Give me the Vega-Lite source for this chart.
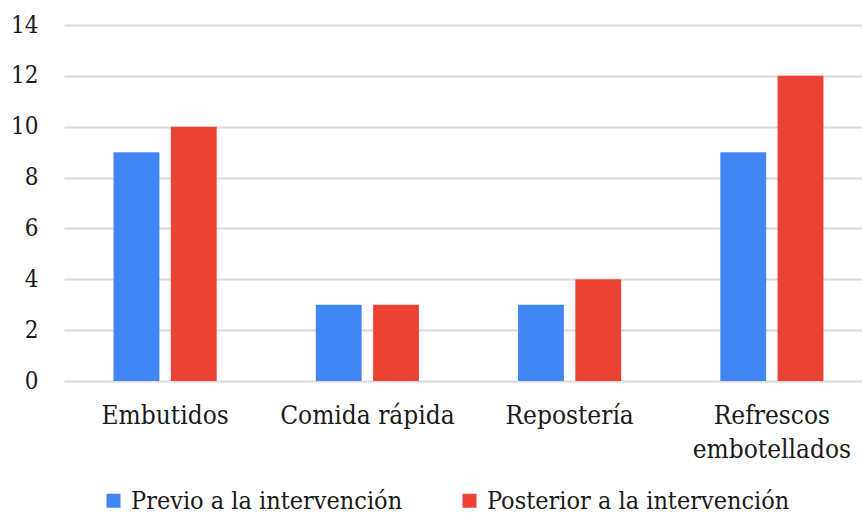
{
  "$schema": "https://vega.github.io/schema/vega-lite/v6.json",
  "width": 809,
  "height": 356,
  "autosize": {"type": "none"},
  "padding": {"left": 64, "top": 25, "right": 0, "bottom": 133},
  "background": "white",
  "config": {
    "view": {"stroke": null},
    "font": "DejaVu Serif Condensed",
    "axis": {"labelFont": "DejaVu Serif Condensed", "labelColor": "#1a1a1a"},
    "legend": {"labelFont": "DejaVu Serif Condensed", "labelColor": "#1a1a1a"}
  },
  "data": {
    "values": [
      {"categoria": "Embutidos", "momento": "Previo a la intervención", "valor": 9},
      {"categoria": "Embutidos", "momento": "Posterior a la intervención", "valor": 10},
      {"categoria": "Comida rápida", "momento": "Previo a la intervención", "valor": 3},
      {"categoria": "Comida rápida", "momento": "Posterior a la intervención", "valor": 3},
      {"categoria": "Repostería", "momento": "Previo a la intervención", "valor": 3},
      {"categoria": "Repostería", "momento": "Posterior a la intervención", "valor": 4},
      {"categoria": "Refrescos embotellados", "momento": "Previo a la intervención", "valor": 9},
      {"categoria": "Refrescos embotellados", "momento": "Posterior a la intervención", "valor": 12}
    ]
  },
  "mark": {"type": "bar"},
  "encoding": {
    "x": {
      "field": "categoria",
      "type": "nominal",
      "sort": null,
      "title": null,
      "scale": {"paddingInner": 0.49, "paddingOuter": 0.245},
      "axis": {
        "domain": false,
        "ticks": false,
        "labelAngle": 0,
        "labelFontSize": 26,
        "labelPadding": 21,
        "labelLineHeight": 34,
        "labelLimit": 300,
        "labelExpr": "datum.label == 'Refrescos embotellados' ? ['Refrescos', 'embotellados'] : datum.label"
      }
    },
    "xOffset": {
      "field": "momento",
      "type": "nominal",
      "sort": ["Previo a la intervención", "Posterior a la intervención"],
      "scale": {"paddingInner": 0.2, "paddingOuter": 0}
    },
    "y": {
      "field": "valor",
      "type": "quantitative",
      "title": null,
      "scale": {"domain": [0, 14], "nice": false},
      "axis": {
        "values": [0, 2, 4, 6, 8, 10, 12, 14],
        "domain": false,
        "ticks": false,
        "labelFontSize": 24,
        "labelPadding": 26,
        "gridColor": "#d9d9d9",
        "gridWidth": 2
      }
    },
    "color": {
      "field": "momento",
      "type": "nominal",
      "sort": ["Previo a la intervención", "Posterior a la intervención"],
      "scale": {
        "domain": ["Previo a la intervención", "Posterior a la intervención"],
        "range": ["#4285F4", "#EA4335"]
      },
      "legend": {
        "title": null,
        "orient": "none",
        "direction": "horizontal",
        "legendX": 37,
        "legendY": 463,
        "symbolType": "square",
        "symbolSize": 196,
        "symbolStrokeWidth": 0,
        "labelFontSize": 25,
        "labelOffset": 5,
        "columnPadding": 54,
        "labelLimit": 400
      }
    }
  }
}
